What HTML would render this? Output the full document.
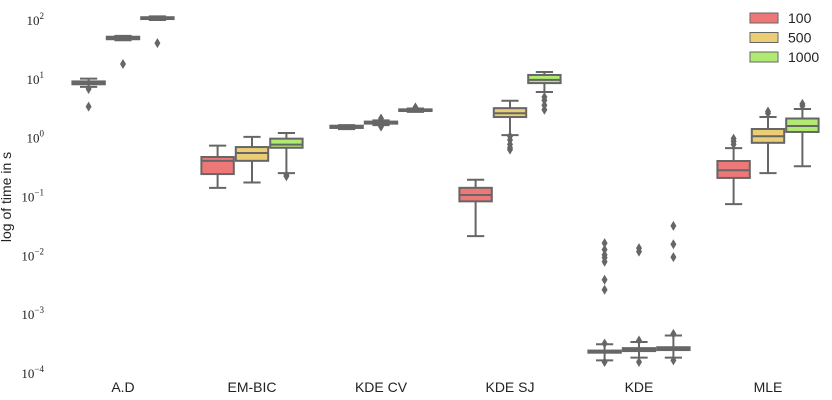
<!DOCTYPE html>
<html><head><meta charset="utf-8"><style>
html,body{margin:0;padding:0;background:#fff;}
svg{display:block;font-family:"Liberation Sans",sans-serif;}
</style></head><body>
<svg id="chart" width="832" height="400" viewBox="0 0 832 400"></svg>
<script>
const categories = ["A.D","EM-BIC","KDE CV","KDE SJ","KDE","MLE"];
const seriesNames = ["100","500","1000"];
const seriesColors = ["#ee7777","#ebcd76","#b1ea72"];
const tickExps = [-4,-3,-2,-1,0,1,2];
// each entry: [whiskerLow, q1, median, q3, whiskerHigh]
const stats100 = [[7.6,8.4,8.8,9.4,10.5],[0.146,0.25,0.42,0.488,0.76],[1.45,1.52,1.6,1.66,1.7],[0.022,0.086,0.11,0.146,0.2],[1.7e-4,2.3e-4,2.4e-4,2.5e-4,3.2e-4],[0.077,0.215,0.29,0.417,0.69]];
const stats500 = [[47,49,52,54,56],[0.18,0.42,0.57,0.72,1.07],[1.7,1.8,1.88,1.95,2.05],[1.15,2.33,2.7,3.3,4.4],[1.9e-4,2.45e-4,2.6e-4,2.75e-4,3.5e-4],[0.26,0.85,1.1,1.46,2.34]];
const stats1000 = [[104,108,112,116,120],[0.26,0.70,0.79,1.0,1.25],[2.85,2.95,3.05,3.15,3.25],[6.2,8.8,10.0,12.1,13.6],[1.9e-4,2.55e-4,2.7e-4,2.85e-4,4.5e-4],[0.34,1.3,1.64,2.2,3.2]];
const outliers100 = [[7.0,3.5],[],[],[],[0.0168,0.013,0.0106,0.0095,0.0081,0.004,0.0027,1.6e-4,3.3e-4],[0.8,0.9,1.0]];
const outliers500 = [[18.6],[],[1.6,2.2],[1.1,0.95,0.8,0.7,0.65],[0.0138,0.012,1.6e-4,3.7e-4],[2.7,2.9]];
const outliers1000 = [[42],[0.24,0.23],[3.4],[5.1,4.5,3.7,3.1],[0.033,0.016,0.0097,1.7e-4,4.8e-4],[3.6,3.9]];

const NS="http://www.w3.org/2000/svg";
const svg=document.getElementById('chart');
function el(t,a,p){const e=document.createElementNS(NS,t);for(const k in a)e.setAttribute(k,a[k]);(p||svg).appendChild(e);return e;}
const yTop=21, decade=58.83;
function y(v){return yTop+(2-Math.log10(v))*decade;}
const x0=123, step=129, bw=34.4;
function xc(ci,si){return x0+ci*step+(si-1)*bw;}

// y ticks
tickExps.forEach(e=>{
  const t=el('text',{x:44,y:y(Math.pow(10,e))+4,'text-anchor':'end','font-family':'"Liberation Serif",serif','font-size':13,fill:'#222'});
  
  
  const b=el('tspan',{},t);b.textContent='10';
  const s=el('tspan',{dy:-6,'font-size':9},t);s.textContent=String(e).replace('-','−');
});
const yl=el('text',{x:0,y:0,transform:'translate(11,197) rotate(-90)','text-anchor':'middle','font-size':14,fill:'#222'});


yl.textContent='log of time in s';

categories.forEach((c,i)=>{
  const t=el('text',{x:x0+i*step,y:392,'text-anchor':'middle','font-size':14,fill:'#222'});
  
  
  t.textContent=c;
});

const allStats=[stats100,stats500,stats1000];
const allOut=[outliers100,outliers500,outliers1000];
const ink='#666';
allStats.forEach((st,si)=>{
  st.forEach((s,ci)=>{
    const cx=xc(ci,si);
    const g=el('g',{});
    
    
    const [wl,q1,md,q3,wh]=s;
    el('line',{x1:cx,x2:cx,y1:y(wh),y2:y(q3),stroke:ink,'stroke-width':2},g);
    el('line',{x1:cx,x2:cx,y1:y(q1),y2:y(wl),stroke:ink,'stroke-width':2},g);
    el('line',{x1:cx-bw/4,x2:cx+bw/4,y1:y(wh),y2:y(wh),stroke:ink,'stroke-width':2},g);
    el('line',{x1:cx-bw/4,x2:cx+bw/4,y1:y(wl),y2:y(wl),stroke:ink,'stroke-width':2},g);
    const top=y(q3),h=Math.max(y(q1)-top,1);
    el('rect',{x:cx-bw/2+1,y:top,width:bw-2,height:h,fill:seriesColors[si],stroke:ink,'stroke-width':2},g);
    el('line',{x1:cx-bw/2+1,x2:cx+bw/2-1,y1:y(md),y2:y(md),stroke:ink,'stroke-width':2},g);
    allOut[si][ci].forEach(v=>{
      const oy=y(v);
      const d=el('path',{d:`M${cx} ${oy-5}L${cx+3} ${oy}L${cx} ${oy+5}L${cx-3} ${oy}Z`,fill:ink},g);
      
      
    });
  });
});

// legend
seriesNames.forEach((n,i)=>{
  const g=el('g',{});
  
  
  const ly=13+i*19.5;
  el('rect',{x:750,y:ly,width:28,height:10,fill:seriesColors[i],stroke:ink,'stroke-width':1},g);
  const t=el('text',{x:788,y:ly+10,'font-size':14,fill:'#222'},g);
  t.textContent=n;
});
</script>
</body></html>
